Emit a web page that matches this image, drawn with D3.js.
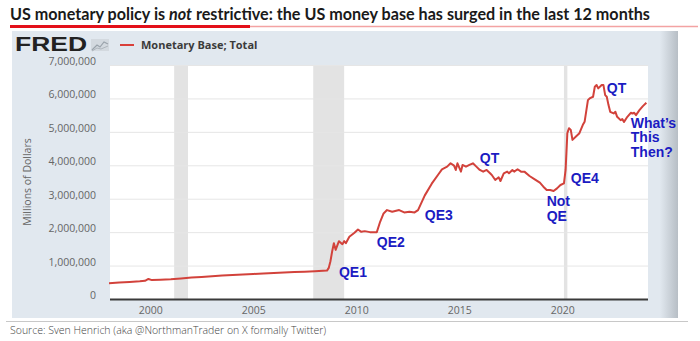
<!DOCTYPE html>
<html>
<head>
<meta charset="utf-8">
<script src="https://cdn.jsdelivr.net/npm/d3@7"></script>
<style>
  body { margin: 0; background: #fff; }
  svg { display: block; }
</style>
</head>
<body>
<svg></svg>
<script>
const width = 700;
const height = 341;

// plot box inside the FRED panel
const plotLeft = 110;
const plotRight = 648;
const plotTop = 65;
const plotBottom = 299;

// Monetary Base; Total (millions of dollars)
const dates = [
  "1998-01", "1998-07", "1999-01", "1999-07", "1999-10", "1999-12", "2000-02", "2000-07",
  "2001-01", "2001-07", "2002-01", "2002-07", "2003-01", "2003-07", "2004-01", "2004-07",
  "2005-01", "2005-07", "2006-01", "2006-07", "2007-01", "2007-07", "2008-01", "2008-08",
  "2008-09", "2008-10", "2008-11", "2008-12", "2009-01", "2009-03", "2009-05", "2009-06",
  "2009-07", "2009-09", "2009-12", "2010-02", "2010-04", "2010-06", "2010-09", "2011-01",
  "2011-03", "2011-05", "2011-07", "2011-10", "2012-02", "2012-05", "2012-08", "2012-11",
  "2013-01", "2013-05", "2013-09", "2014-01", "2014-03", "2014-06", "2014-08", "2014-10",
  "2014-11", "2014-12", "2015-02", "2015-03", "2015-05", "2015-07", "2015-09", "2015-11",
  "2016-01", "2016-03", "2016-05", "2016-07", "2016-08", "2016-10", "2016-12", "2017-01",
  "2017-03", "2017-05", "2017-06", "2017-08", "2017-09", "2017-11", "2018-01", "2018-03",
  "2018-06", "2018-09", "2018-12", "2019-02", "2019-04", "2019-06", "2019-08", "2019-10",
  "2019-12", "2020-02", "2020-03", "2020-04", "2020-05", "2020-06", "2020-07", "2020-09",
  "2020-11", "2021-01", "2021-02", "2021-04", "2021-05", "2021-07", "2021-08", "2021-09",
  "2021-10", "2021-12", "2022-01", "2022-02", "2022-03", "2022-04", "2022-05", "2022-07",
  "2022-08", "2022-09", "2022-11", "2022-12", "2023-01", "2023-03", "2023-05", "2023-06",
  "2023-07", "2023-08", "2023-10", "2023-12", "2024-02"
];
const values = [
  470000, 490000, 510000, 530000, 545000, 600000, 565000, 575000,
  590000, 615000, 640000, 660000, 680000, 700000, 720000, 735000,
  750000, 765000, 780000, 795000, 805000, 815000, 830000, 850000,
  930000, 1130000, 1430000, 1670000, 1470000, 1730000, 1640000, 1730000,
  1670000, 1860000, 1980000, 2080000, 2010000, 2030000, 2000000, 2000000,
  2310000, 2560000, 2660000, 2610000, 2660000, 2590000, 2610000, 2590000,
  2660000, 3100000, 3450000, 3740000, 3880000, 3960000, 4060000, 3990000,
  3860000, 4060000, 3810000, 4010000, 3960000, 4010000, 4060000, 3960000,
  3860000, 3810000, 3860000, 3760000, 3710000, 3560000, 3640000, 3530000,
  3760000, 3810000, 3760000, 3860000, 3810000, 3880000, 3810000, 3810000,
  3680000, 3580000, 3480000, 3360000, 3260000, 3260000, 3230000, 3310000,
  3410000, 3460000, 3860000, 4960000, 5110000, 5060000, 4760000, 4860000,
  4960000, 5210000, 5300000, 5950000, 6000000, 6050000, 6350000, 6400000,
  6300000, 6400000, 6400000, 6100000, 6050000, 5800000, 5600000, 5550000,
  5600000, 5450000, 5350000, 5380000, 5300000, 5450000, 5570000, 5550000,
  5570000, 5500000, 5650000, 5770000, 5870000
];

const yTicks = [0, 1000000, 2000000, 3000000, 4000000, 5000000, 6000000, 7000000];
const xTicks = ["2000", "2005", "2010", "2015", "2020"];

// NBER recessions (shaded)
const recessionStarts = ["2001-03", "2007-12", "2020-02"];
const recessionEnds = ["2001-11", "2009-06", "2020-04"];

// blue notes, anchored at a date / value (baseline of first line)
const noteTexts = [["QE1"], ["QE2"], ["QE3"], ["QT"], ["Not", "QE"], ["QE4"], ["QT"], ["What\u2019s", "This", "Then?"]];
const noteDates = ["2009-03", "2011-01", "2013-05", "2016-01", "2019-04", "2020-06", "2022-03", "2023-05"];
const noteValues = [660000, 1560000, 2360000, 4070000, 2780000, 3470000, 6160000, 5120000];

const title = ["US monetary policy is ", "not", " restrictive: the US money base has surged in the last 12 months"];
const legendLabel = "Monetary Base; Total";
const yLabel = "Millions of Dollars";
const source = "Source: Sven Henrich (aka @NorthmanTrader on X formally Twitter)";

const parse = d3.timeParse("%Y-%m");
const svg = d3.select("svg").attr("width", width).attr("height", height);

let xScale;
let yScale;

const generateScales = () => {
    xScale = d3.scaleTime()
               .domain([parse("1998-01"), parse("2024-03")])
               .range([plotLeft - 1, plotRight]);
    yScale = d3.scaleLinear()
               .domain([0, 7000000])
               .range([plotBottom, plotTop]);
};

const generateHeader = () => {
    // title pieces laid side by side, then squeezed to the reference width
    const g = svg.append("g");
    let x = 0;
    title.forEach((s, i) => {
        const t = g.append("text")
           .attr("x", x)
           .attr("y", 0)
           .style("font-family", "Lato, sans-serif")
           .style("font-weight", "bold")
           .style("font-style", i === 1 ? "italic" : "normal")
           .style("font-size", "17px")
           .style("fill", "#1a1a1a")
           .style("white-space", "pre")
           .text(s);
        x += t.node().getComputedTextLength();
    });
    g.attr("transform", "translate(10,20) scale(" + (640 / x) + ",1)");

    svg.append("line")
       .attr("x1", 248).attr("x2", 698).attr("y1", 26.5).attr("y2", 26.5)
       .attr("stroke", "#f3a3a3").attr("stroke-width", 1.5);
    svg.append("line")
       .attr("x1", 10).attr("x2", 250).attr("y1", 26.5).attr("y2", 26.5)
       .attr("stroke", "#e3101a").attr("stroke-width", 3);
};

const generatePanel = () => {
    const defs = svg.append("defs");
    const grad = defs.append("linearGradient").attr("id", "shade");
    grad.append("stop").attr("offset", "0%").attr("stop-color", "#e1e8ef");
    grad.append("stop").attr("offset", "100%").attr("stop-color", "#b7bec5");

    svg.append("rect")
       .attr("x", 12).attr("y", 31).attr("width", 666).attr("height", 287)
       .attr("fill", "#e1e8ef");
    svg.append("rect")
       .attr("x", 660).attr("y", 31).attr("width", 18).attr("height", 287)
       .attr("fill", "url(#shade)");
    svg.append("line")
       .attr("x1", 6).attr("x2", 688).attr("y1", 321.5).attr("y2", 321.5)
       .attr("stroke", "#c8c8c8").attr("stroke-width", 1);

    // FRED logo + legend
    svg.append("text")
       .attr("x", 15).attr("y", 51)
       .attr("textLength", 72)
       .attr("lengthAdjust", "spacingAndGlyphs")
       .style("font-family", "'Liberation Sans', Arial, sans-serif")
       .style("font-weight", "bold")
       .style("font-size", "20px")
       .style("fill", "#222")
       .text("FRED");
    const icon = svg.append("g").attr("transform", "translate(91,39)");
    icon.append("rect").attr("width", 18).attr("height", 12).attr("fill", "#d3d9df");
    icon.append("path")
        .attr("d", "M1,11 L6,6 L9,8 L13,3 L17,5")
        .attr("fill", "none").attr("stroke", "#9aa3ab").attr("stroke-width", 1.2);
    icon.append("path")
        .attr("d", "M1,12 L6,9 L10,10 L17,7")
        .attr("fill", "none").attr("stroke", "#aeb5bc").attr("stroke-width", 1);

    svg.append("line")
       .attr("x1", 120).attr("x2", 134).attr("y1", 45).attr("y2", 45)
       .attr("stroke", "#d9403a").attr("stroke-width", 2);
    svg.append("text")
       .attr("x", 141).attr("y", 49)
       .style("font-family", "'Open Sans', sans-serif")
       .style("font-weight", "bold")
       .style("font-size", "11px")
       .style("fill", "#3b3b3b")
       .text(legendLabel);

    svg.append("rect")
       .attr("x", plotLeft).attr("y", plotTop)
       .attr("width", plotRight - plotLeft).attr("height", plotBottom - plotTop)
       .attr("fill", "#fff");
};

const generateRecessions = () => {
    svg.append("g").selectAll("rect")
       .data(recessionStarts)
       .enter()
       .append("rect")
       .attr("x", (d) => xScale(parse(d)))
       .attr("width", (d, i) => Math.max(2, xScale(parse(recessionEnds[i])) - xScale(parse(d))))
       .attr("y", plotTop)
       .attr("height", plotBottom - plotTop)
       .attr("fill", "#e3e3e3");
};

const generateAxes = () => {
    const yAxis = d3.axisLeft(yScale)
                    .tickValues(yTicks)
                    .tickSize(-(plotRight - plotLeft))
                    .tickPadding(14)
                    .tickFormat(d3.format(","));
    const gy = svg.append("g")
       .attr("transform", "translate(" + plotLeft + ",0)")
       .call(yAxis);
    gy.select(".domain").remove();
    gy.selectAll(".tick line").attr("stroke", "#e6e6e6");
    gy.selectAll(".tick text")
      .attr("dy", "-0.05em")
      .style("font-family", "'Open Sans', sans-serif")
      .style("font-size", "10.5px")
      .style("fill", "#666");

    const xAxis = d3.axisBottom(xScale)
                    .tickValues(xTicks.map((y) => d3.timeParse("%Y")(y)))
                    .tickSize(0)
                    .tickPadding(8)
                    .tickFormat(d3.timeFormat("%Y"));
    const gx = svg.append("g")
       .attr("transform", "translate(0," + plotBottom + ")")
       .call(xAxis);
    gx.select(".domain").remove();
    gx.selectAll(".tick text")
      .style("font-family", "'Open Sans', sans-serif")
      .style("font-size", "10.5px")
      .style("fill", "#666");

    svg.append("line")
       .attr("x1", plotLeft).attr("x2", plotRight)
       .attr("y1", plotBottom + 0.5).attr("y2", plotBottom + 0.5)
       .attr("stroke", "#3a3a3a").attr("stroke-width", 2);

    svg.append("text")
       .attr("transform", "translate(31," + ((plotTop + plotBottom) / 2) + ") rotate(-90)")
       .attr("text-anchor", "middle")
       .style("font-family", "'Open Sans', sans-serif")
       .style("font-size", "10.5px")
       .style("fill", "#666")
       .text(yLabel);
};

const generateLine = () => {
    const line = d3.line()
                   .x((d, i) => xScale(parse(dates[i])))
                   .y((d) => yScale(d));
    svg.append("path")
       .datum(values)
       .attr("d", line)
       .attr("fill", "none")
       .attr("stroke", "#d2423b")
       .attr("stroke-width", 2)
       .attr("stroke-linejoin", "round");
};

const generateNotes = () => {
    noteTexts.forEach((lines, i) => {
        const t = svg.append("text")
           .attr("x", xScale(parse(noteDates[i])))
           .attr("y", yScale(noteValues[i]))
           .style("font-family", "'Liberation Sans', Arial, sans-serif")
           .style("font-weight", "bold")
           .style("font-size", "14px")
           .style("fill", "#1b1bc2");
        lines.forEach((s, j) => {
            t.append("tspan")
             .attr("x", xScale(parse(noteDates[i])))
             .attr("dy", j === 0 ? 0 : 14.5)
             .text(s);
        });
    });
};

const generateSource = () => {
    svg.append("text")
       .attr("x", 10).attr("y", 334)
       .style("font-family", "'Open Sans', sans-serif")
       .style("font-weight", 300)
       .style("font-size", "10.5px")
       .style("fill", "#444")
       .text(source);
};

generateScales();
generateHeader();
generatePanel();
generateRecessions();
generateAxes();
generateLine();
generateNotes();
generateSource();
</script>
</body>
</html>
